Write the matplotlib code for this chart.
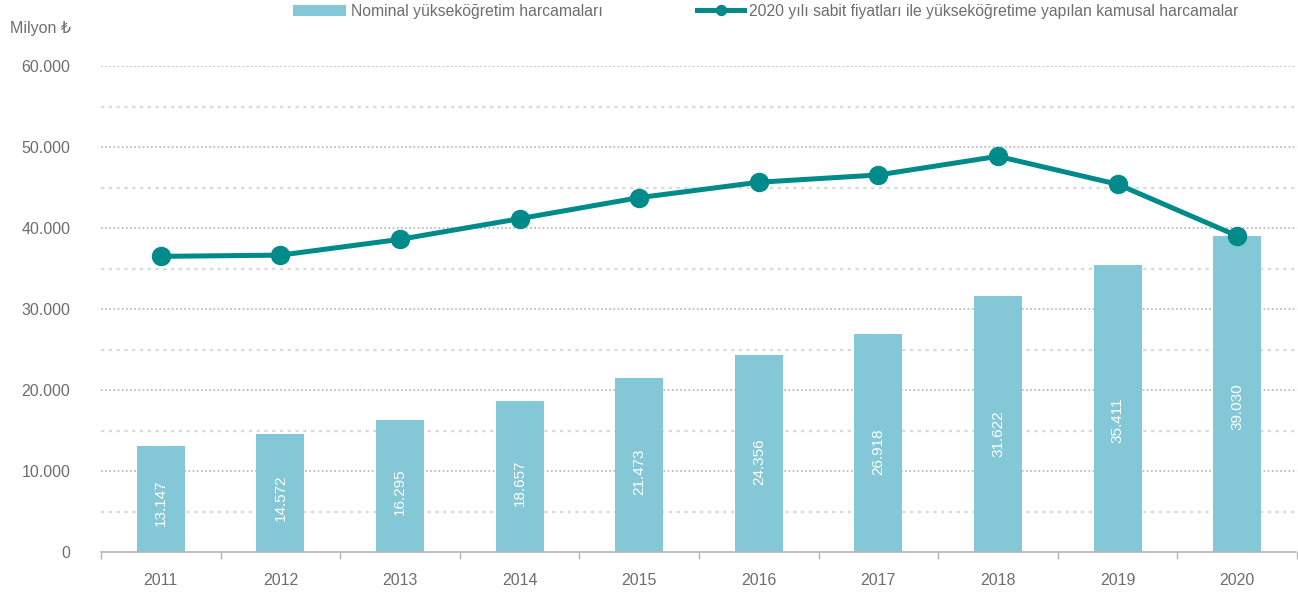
import matplotlib.pyplot as plt
from matplotlib.ticker import FuncFormatter, MultipleLocator, FixedLocator

plt.rcParams['font.family'] = ['Liberation Sans Narrow', 'Liberation Sans', 'DejaVu Sans']

yillar = ['2011', '2012', '2013', '2014', '2015', '2016', '2017', '2018', '2019', '2020']
nominal = [13147, 14572, 16295, 18657, 21473, 24356, 26918, 31622, 35411, 39030]
sabit_2020 = [36500, 36650, 38600, 41150, 43750, 45650, 46550, 48850, 45400, 39030]

bar_renk = '#84C8D7'
cizgi_renk = '#008B8A'
yazi_renk = '#6E6E6E'
izgara_renk = '#B5B5B5'

fig = plt.figure(figsize=(12.98, 5.96), dpi=100)
ax = fig.add_axes([101 / 1298, 1 - 552 / 596, 1196 / 1298, 486 / 596])

x = range(len(yillar))
bars = ax.bar(x, nominal, width=0.4, color=bar_renk, zorder=2,
              label='Nominal yükseköğretim harcamaları')
cizgi, = ax.plot(x, sabit_2020, color=cizgi_renk, lw=3.6, marker='o', ms=13, zorder=3,
                 label='2020 yılı sabit fiyatları ile yükseköğretime yapılan kamusal harcamalar')

# bar values written inside the bars
for xi, deger in zip(x, nominal):
    ax.text(xi, deger * 0.46, f'{deger:,}'.replace(',', '.'), rotation=90,
            ha='center', va='center', color='white', fontsize=11, zorder=4)

ax.set_xlim(-0.5, len(yillar) - 0.5)
ax.set_ylim(0, 60000)

# gridlines: fine dots every 10.000, coarser lighter dots in between
for v in range(5000, 60001, 5000):
    if v % 10000 == 0:
        ax.axhline(v, color=izgara_renk, lw=1.2, ls=(0, (1, 1.5)), zorder=1)
    else:
        ax.axhline(v, color='#DADADA', lw=1.6, ls=(0, (1.5, 2)), zorder=1)

for s in ['top', 'right', 'left']:
    ax.spines[s].set_visible(False)
ax.spines['bottom'].set_color(izgara_renk)
ax.spines['bottom'].set_linestyle((0, (1, 1)))
ax.spines['bottom'].set_linewidth(1.2)

ax.yaxis.set_major_locator(MultipleLocator(10000))
ax.yaxis.set_major_formatter(FuncFormatter(lambda v, p: f'{int(v):,}'.replace(',', '.')))
ax.tick_params(axis='y', length=0, pad=22, labelsize=11.5, labelcolor=yazi_renk)

ax.set_xticks(list(x))
ax.set_xticklabels(yillar)
ax.tick_params(axis='x', length=0, pad=15, labelsize=11.5, labelcolor=yazi_renk)
ax.xaxis.set_minor_locator(FixedLocator([i - 0.5 for i in range(len(yillar) + 1)]))
ax.tick_params(axis='x', which='minor', length=5, width=1, color=izgara_renk)
for t in ax.xaxis.get_minorticklines():
    t.set_linestyle((0, (1, 1)))

fig.text(10 / 1298, 1 - 28 / 596, 'Milyon ₺', fontsize=11.5, color=yazi_renk,
         va='center', ha='left')

# two legend entries placed side by side across the top
ortak = dict(loc='upper left', frameon=False, fontsize=11.3, labelcolor=yazi_renk,
             borderpad=0, borderaxespad=0, handletextpad=0.3, handleheight=0.75)
fig.legend(handles=[bars], bbox_to_anchor=(293 / 1298, 1 - 4 / 596),
           handlelength=3.4, **ortak)
fig.legend(handles=[cizgi], bbox_to_anchor=(697 / 1298, 1 - 4 / 596),
           handlelength=3.0, markerscale=0.55, **ortak)

fig.savefig('out.png', dpi=100)
